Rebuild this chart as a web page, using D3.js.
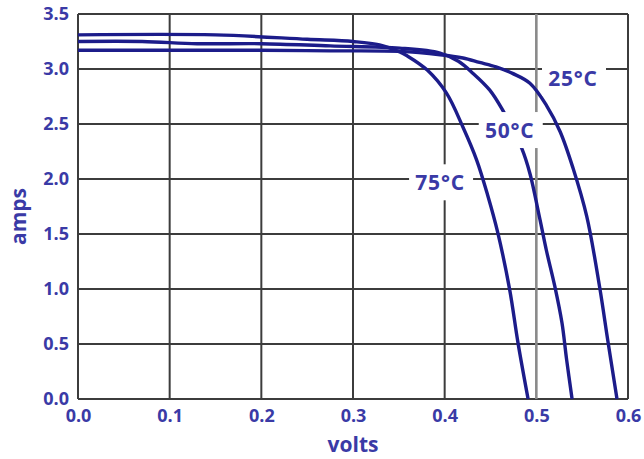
<!DOCTYPE html>
<html><head><meta charset="utf-8">
<script src="https://cdn.jsdelivr.net/npm/d3@7/dist/d3.min.js"></script>
<style>body{margin:0;background:#fff;} svg{display:block;}</style>
</head><body>
<svg id="chart" width="644" height="459"></svg>
<script>
const xTicks = [0.0, 0.1, 0.2, 0.3, 0.4, 0.5, 0.6];
const yTicks = [0.0, 0.5, 1.0, 1.5, 2.0, 2.5, 3.0, 3.5];
const seriesNames = ["25°C", "50°C", "75°C"];
const volts25 = [0, 0.10, 0.20, 0.275, 0.351, 0.395, 0.420, 0.438, 0.456, 0.474, 0.493, 0.511, 0.526, 0.540, 0.555, 0.569, 0.578, 0.588];
const amps25  = [3.17, 3.17, 3.17, 3.165, 3.16, 3.13, 3.10, 3.06, 3.02, 2.96, 2.87, 2.67, 2.43, 2.10, 1.66, 1.02, 0.53, 0.0];
const volts50 = [0, 0.07, 0.13, 0.20, 0.275, 0.351, 0.395, 0.415, 0.431, 0.449, 0.463, 0.484, 0.493, 0.504, 0.511, 0.520, 0.528, 0.533, 0.539];
const amps50  = [3.25, 3.25, 3.23, 3.23, 3.21, 3.19, 3.145, 3.07, 2.96, 2.81, 2.63, 2.28, 2.05, 1.63, 1.35, 1.03, 0.69, 0.36, 0.0];
const volts75 = [0, 0.15, 0.25, 0.30, 0.329, 0.351, 0.359, 0.381, 0.402, 0.420, 0.435, 0.447, 0.458, 0.471, 0.480, 0.491];
const amps75  = [3.31, 3.31, 3.27, 3.25, 3.22, 3.155, 3.12, 2.99, 2.78, 2.47, 2.17, 1.85, 1.51, 0.99, 0.51, 0.0];
const labelVolts = [0.540, 0.471, 0.395];
const labelAmps  = [2.92, 2.445, 1.97];

const margin = {left: 78, top: 14, right: 16, bottom: 60};
const W = 644, H = 459;
const svg = d3.select("#chart");
const x = d3.scaleLinear().domain([0, 0.6]).range([margin.left, W - margin.right]);
const y = d3.scaleLinear().domain([0, 3.5]).range([H - margin.bottom, margin.top]);

const gridColor = "#3c3c3c";
const textColor = "#3a3aa6";
const curveColor = "#1c1c8a";

// grid
svg.append("g").selectAll("line.h").data(yTicks).join("line")
  .attr("x1", x(0)).attr("x2", x(0.6))
  .attr("y1", d => y(d)).attr("y2", d => y(d))
  .attr("stroke", gridColor).attr("stroke-width", 2);
svg.append("g").selectAll("line.v").data(xTicks).join("line")
  .attr("x1", d => x(d)).attr("x2", d => x(d))
  .attr("y1", y(0)).attr("y2", y(3.5))
  .attr("stroke", d => d === 0.5 ? "#8a8a8a" : gridColor)
  .attr("stroke-width", d => d === 0.5 ? 2.6 : 2);

// axes (tick labels)
const xAxis = d3.axisBottom(x).tickValues(xTicks).tickFormat(d3.format(".1f")).tickSize(0).tickPadding(10);
const gx = svg.append("g").attr("transform", `translate(0,${y(0)})`).call(xAxis);
const yAxis = d3.axisLeft(y).tickValues(yTicks).tickFormat(d3.format(".1f")).tickSize(0).tickPadding(9);
const gy = svg.append("g").attr("transform", `translate(${x(0)},0)`).call(yAxis);
[gx, gy].forEach(g => {
  g.select(".domain").remove();
  g.selectAll("text").attr("fill", textColor)
    .style("font-family", "'Open Sans', sans-serif").style("font-weight", "700").style("font-size", "18px");
});

// curves
const series = [
  {v: volts25, a: amps25},
  {v: volts50, a: amps50},
  {v: volts75, a: amps75}
];
const line = d3.line().x(d => x(d[0])).y(d => y(d[1])).curve(d3.curveCatmullRom.alpha(0.5));
svg.append("g").selectAll("path").data(series).join("path")
  .attr("d", s => line(s.v.map((v, i) => [v, s.a[i]])))
  .attr("fill", "none").attr("stroke", curveColor).attr("stroke-width", 3.4)
  .attr("stroke-linejoin", "round");

// labels with white boxes
const lab = svg.append("g");
seriesNames.forEach((name, i) => {
  const cx = x(labelVolts[i]), cy = y(labelAmps[i]);
  lab.append("rect").attr("x", cx - 31).attr("y", cy - 18).attr("width", 64).attr("height", 36).attr("fill", "#fff");
  lab.append("text").attr("x", cx).attr("y", cy).attr("text-anchor", "middle").attr("dominant-baseline", "central")
    .attr("fill", textColor).style("font-family", "'Open Sans', sans-serif").style("font-weight", "700")
    .style("font-size", "21px").style("letter-spacing", "0.8px").text(name);
});

// axis titles
svg.append("text").attr("x", (x(0) + x(0.6)) / 2).attr("y", 452).attr("text-anchor", "middle")
  .attr("fill", textColor).style("font-family", "'Open Sans', sans-serif").style("font-weight", "700").style("font-size", "21px").text("volts");
svg.append("text").attr("transform", `translate(26,${(y(0) + y(3.5)) / 2 + 10}) rotate(-90)`).attr("text-anchor", "middle")
  .attr("fill", textColor).style("font-family", "'Open Sans', sans-serif").style("font-weight", "700").style("font-size", "21px").text("amps");
</script>
</body></html>
